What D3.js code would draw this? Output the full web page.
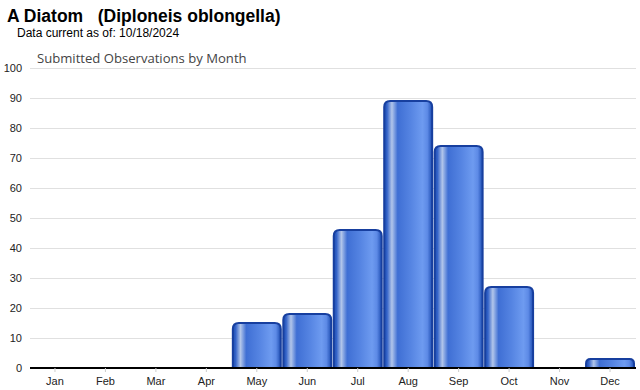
<!DOCTYPE html>
<html>
<head>
<meta charset="utf-8">
<script src="https://cdn.jsdelivr.net/npm/d3@7"></script>
<style>
  body { margin: 0; background: #fff; }
  svg { display: block; font-family: Arial, "Liberation Sans", sans-serif; }
</style>
</head>
<body>
<script>
// chart data
const months = ['Jan', 'Feb', 'Mar', 'Apr', 'May', 'Jun', 'Jul', 'Aug', 'Sep', 'Oct', 'Nov', 'Dec'];
const counts = [0, 0, 0, 0, 15, 18, 46, 89, 74, 27, 0, 3];
const yTicks = [0, 10, 20, 30, 40, 50, 60, 70, 80, 90, 100];

const width = 640;
const height = 390;

const svg = d3.select('body')
  .append('svg')
  .attr('width', width)
  .attr('height', height);

// titles
svg.append('text')
  .attr('x', 7).attr('y', 22)
  .attr('font-size', 17.5).attr('font-weight', 'bold')
  .attr('xml:space', 'preserve')
  .style('white-space', 'pre')
  .text('A Diatom   (Diploneis oblongella)');

svg.append('text')
  .attr('x', 17).attr('y', 37)
  .attr('font-size', 12)
  .text('Data current as of: 10/18/2024');

svg.append('text')
  .attr('x', 37).attr('y', 63)
  .attr('font-size', 13.1)
  .attr('fill', '#444')
  .attr('font-family', '"Open Sans", sans-serif')
  .text('Submitted Observations by Month');

// scales
const x = d3.scaleBand()
  .domain(months)
  .range([30, 635])
  .paddingInner(0.01)
  .paddingOuter(0);

const y = d3.scaleLinear()
  .domain([0, 100])
  .range([368, 68]);

// bar gradient
const defs = svg.append('defs');
const grad = defs.append('linearGradient')
  .attr('id', 'barGrad')
  .attr('x1', '0%').attr('x2', '100%')
  .attr('y1', '0%').attr('y2', '0%');
[
  [0, '#1b4bae'],
  [0.06, '#3564c9'],
  [0.16, '#b2c6ea'],
  [0.28, '#3f6fd4'],
  [0.55, '#5584e2'],
  [0.8, '#6e9bf0'],
  [0.9, '#5d8ae6'],
  [1, '#1d4db2']
].forEach(s => grad.append('stop').attr('offset', s[0]).attr('stop-color', s[1]));

// gridlines
svg.append('g')
  .selectAll('line')
  .data(yTicks.filter(d => d > 0))
  .enter()
  .append('line')
  .attr('x1', 30).attr('x2', 636)
  .attr('y1', d => y(d)).attr('y2', d => y(d))
  .attr('stroke', '#e0e0e0')
  .attr('stroke-width', 1)
  .attr('shape-rendering', 'crispEdges');

// y axis labels
svg.append('g')
  .selectAll('text')
  .data(yTicks)
  .enter()
  .append('text')
  .attr('x', 22)
  .attr('y', d => y(d))
  .attr('dy', '0.35em')
  .attr('text-anchor', 'end')
  .attr('font-size', 11)
  .attr('fill', '#222')
  .text(d => d);

// bars with rounded tops
const r = 6;
const barPath = d => {
  const x0 = x(d.month) + 1, x1 = x(d.month) + x.bandwidth() - 1;
  const y0 = y(0), y1 = y(d.value);
  const rr = Math.min(r, (y0 - y1) / 2);
  return `M${x0},${y0} L${x0},${y1 + rr} Q${x0},${y1} ${x0 + rr},${y1} ` +
    `L${x1 - rr},${y1} Q${x1},${y1} ${x1},${y1 + rr} L${x1},${y0} Z`;
};

const barData = months.map((m, i) => ({ month: m, value: counts[i] })).filter(d => d.value > 0);

svg.append('g')
  .selectAll('path')
  .data(barData)
  .enter()
  .append('path')
  .attr('d', barPath)
  .attr('fill', 'url(#barGrad)')
  .attr('stroke', '#173f9f')
  .attr('stroke-width', 2);

// x axis
const xAxis = svg.append('g')
  .attr('transform', `translate(0, ${y(0)})`)
  .call(d3.axisBottom(x).tickSize(4).tickPadding(5).tickSizeOuter(0));
xAxis.select('.domain')
  .attr('stroke', '#000')
  .attr('stroke-width', 2)
  .attr('d', 'M30,0H636');
xAxis.selectAll('.tick line').attr('stroke', '#ccc');
xAxis.selectAll('.tick text')
  .attr('font-size', 11)
  .attr('font-family', 'Arial, "Liberation Sans", sans-serif')
  .attr('fill', '#222');
</script>
</body>
</html>
